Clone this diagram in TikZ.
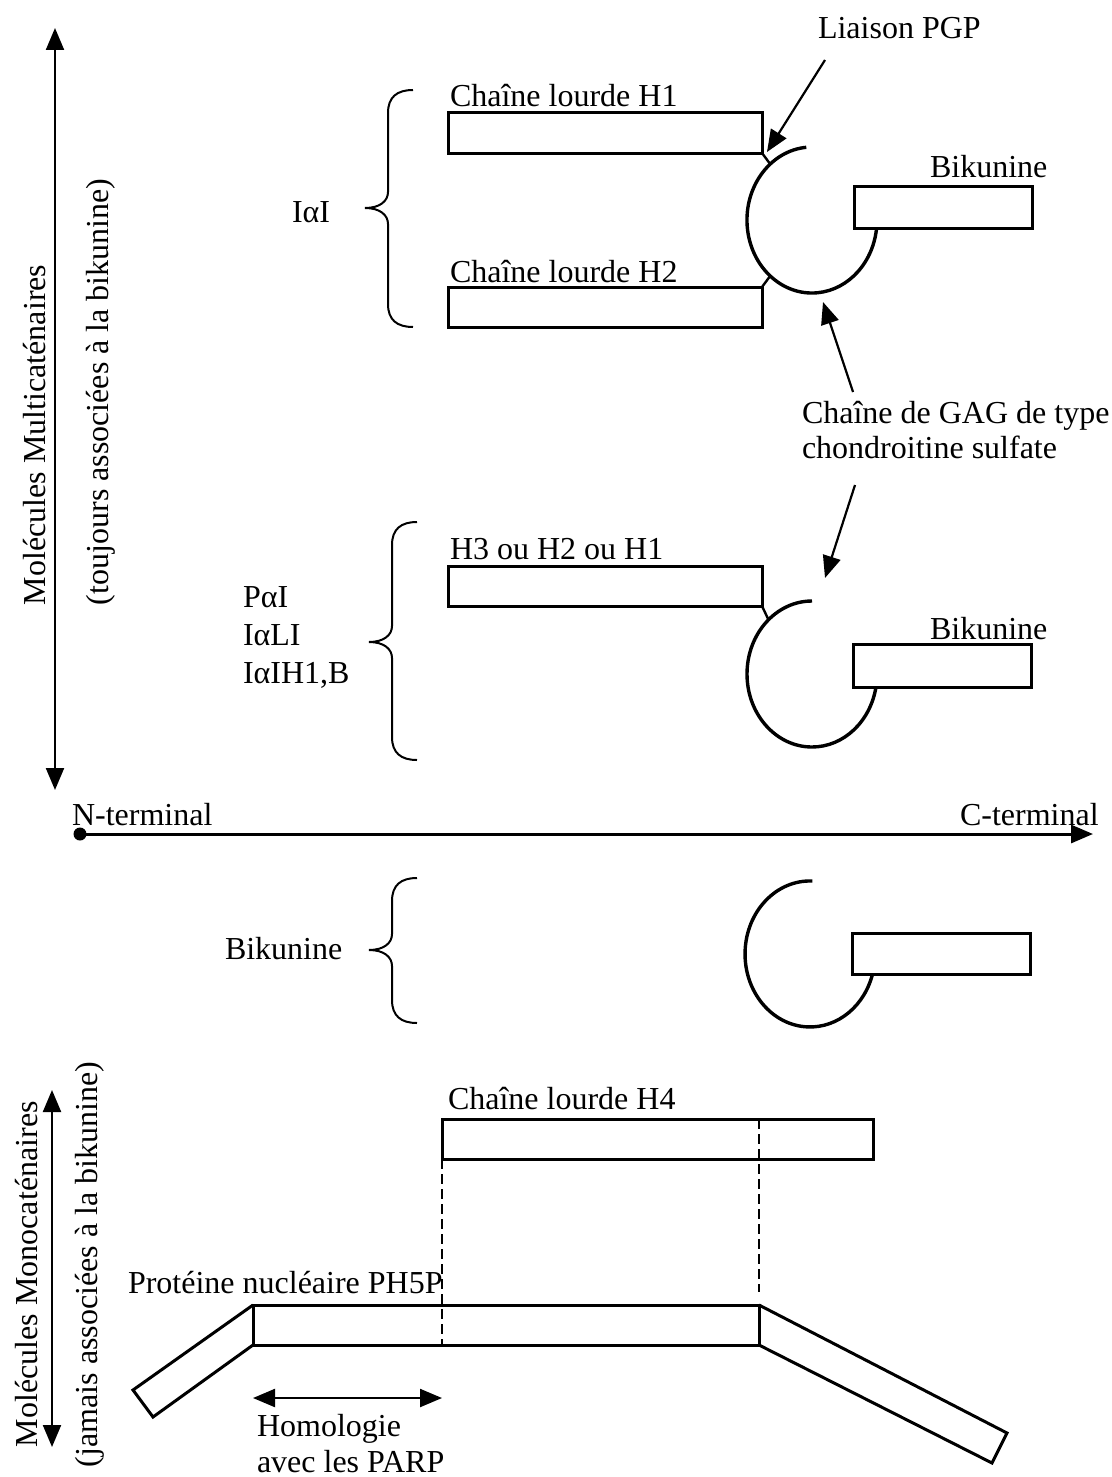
\documentclass[tikz,border=0pt]{standalone}
\usepackage{fontspec}
\setmainfont{Liberation Serif}
\usetikzlibrary{arrows.meta}
\newcommand{\CurlyBrace}[4]{%
  \draw[bracestyle] ({#1+25},#2) .. controls ({#1+9},#2) and (#1,{#2+7}) .. (#1,{#2+23})
    -- (#1,{#3-16}) .. controls (#1,{#3-7}) and ({#1-8},#3) .. ({#1-23},#3)
    .. controls ({#1-8},#3) and (#1,{#3+7}) .. (#1,{#3+16})
    -- (#1,{#4-23}) .. controls (#1,{#4-7}) and ({#1+9},#4) .. ({#1+25},#4);}
\begin{document}
\begin{tikzpicture}[x=0.5pt,y=-0.5pt,
  every node/.style={inner sep=0pt, outer sep=0pt, font=\fontsize{16}{19}\selectfont},
  lbl/.style={anchor=base west},
  bar/.style={draw, line width=1.5pt, fill=white, anchor=north west, inner sep=0pt},
  barline/.style={line width=1.5pt, line join=miter},
  arcline/.style={line width=1.7pt},
  tick/.style={line width=1.2pt},
  bracestyle/.style={line width=1pt},
  arr/.style={line width=1.1pt, -{Triangle[length=11pt,width=9pt]}},
  darr/.style={line width=1.1pt, {Triangle[length=11pt,width=9pt]}-{Triangle[length=11pt,width=9pt]}},
  dashline/.style={line width=0.8pt, dash pattern=on 5pt off 2.5pt}]
\useasboundingbox (0,0) rectangle (1112,1477);

% ---- left vertical axes and rotated texts
\coordinate (vt1) at (55,28);
\coordinate (vb1) at (55,790);
\draw[darr] (vt1) -- (vb1);
\node[rotate=90, anchor=base west] (multi) at (45,605) {Molécules Multicaténaires};
\node[rotate=90, anchor=base west] (tjrs) at (108,605) {(toujours associées à la bikunine)};

\coordinate (vt2) at (52,1090);
\coordinate (vb2) at (52,1447);
\draw[darr] (vt2) -- (vb2);
\node[rotate=90, anchor=base west] (mono) at (37,1447) {Molécules Monocaténaires};
\node[rotate=90, anchor=base west] (jam) at (97,1467) {(jamais associées à la bikunine)};

% ---- section 1 : IaI
\CurlyBrace{388}{90}{208}{327}
\node[lbl] (iai) at (292,222) {IαI};
\draw[arcline] (806.3,147.3) arc[start angle=265, end angle=5, x radius=65, y radius=73];
\coordinate (a1top) at (770.2,164.1);
\coordinate (a1bot) at (770.2,275.9);
\node[bar, minimum width=157pt, minimum height=20pt] (h1) at (448,113) {};
\node[bar, minimum width=157pt, minimum height=20pt] (h2) at (448,287) {};
\node[bar, minimum width=89pt, minimum height=21pt] (bk1) at (854,186) {};
\draw[tick] (h1.south east) -- (a1top);
\draw[tick] (h2.north east) -- (a1bot);
\node[lbl] (lh1) at (450,107) {Chaîne lourde H1};
\node[lbl] (lh2) at (450,282) {Chaîne lourde H2};
\node[lbl] (lbk1) at (930,177) {Bikunine};

\node[lbl] (pgp) at (818,39) {Liaison PGP};
\coordinate (pgptail) at (825,60);
\coordinate (pgphead) at (767,152);
\draw[arr] (pgptail) -- (pgphead);

% ---- GAG label
\node[lbl] (gag1) at (802,423) {Chaîne de GAG de type};
\node[lbl] (gag2) at (802,458) {chondroitine sulfate};
\coordinate (gagup) at (853,392);
\coordinate (gaguph) at (823,302);
\draw[arr] (gagup) -- (gaguph);
\coordinate (gagdn) at (855,485);
\coordinate (gagdnh) at (825,578);
\draw[arr] (gagdn) -- (gagdnh);

% ---- section 2
\CurlyBrace{392}{522}{642}{760}
\node[lbl] (pai) at (243,607) {PαI};
\node[lbl] (iali) at (243,645) {IαLI};
\node[lbl] (iaih) at (243,683) {IαIH1,B};
\draw[arcline] (812,601) arc[start angle=270, end angle=10, x radius=65, y radius=73];
\coordinate (a2top) at (768.5,619.8);
\node[bar, minimum width=157pt, minimum height=20pt] (h3) at (448,566) {};
\node[bar, minimum width=89pt, minimum height=21.5pt] (bk2) at (853,644) {};
\draw[tick] (h3.south east) -- (a2top);
\node[lbl] (lh3) at (450,559) {H3 ou H2 ou H1};
\node[lbl] (lbk2) at (930,639) {Bikunine};

% ---- N / C axis
\node[circle, fill=black, minimum size=6.5pt] (ndot) at (80,834) {};
\coordinate (ctip) at (1093,834);
\draw[line width=1.5pt, -{Triangle[length=11pt,width=9pt]}] (ndot.center) -- (ctip);
\node[lbl] (nterm) at (72,825) {N-terminal};
\node[lbl] (cterm) at (960,825) {C-terminal};

% ---- section 3 : bikunine alone
\CurlyBrace{392}{878}{950}{1023}
\node[lbl] (lbk3) at (225,959) {Bikunine};
\draw[arcline] (812.3,881) arc[start angle=272, end angle=15, x radius=65, y radius=73];
\node[bar, minimum width=89pt, minimum height=20.5pt] (bk3) at (852,933) {};

% ---- section 4 : single chain molecules
\node[bar, minimum width=215.5pt, minimum height=20pt] (h4) at (442,1119) {};
\node[lbl] (lh4) at (448,1109) {Chaîne lourde H4};
\node[bar, minimum width=253pt, minimum height=20pt] (ph5p) at (253,1305) {};
\draw[barline] (ph5p.north west) -- (133,1390) -- (153,1417) -- (ph5p.south west);
\draw[barline] (ph5p.north east) -- (1007,1433) -- (992,1463) -- (ph5p.south east);
\coordinate (dl1) at (442,1159);
\coordinate (dl2) at (442,1345);
\draw[dashline] (dl1) -- (dl2);
\coordinate (dr1) at (759,1119);
\coordinate (dr2) at (759,1292);
\draw[dashline] (dr1) -- (dr2);
\node[lbl] (lph5p) at (128,1293) {Protéine nucléaire PH5P};

\coordinate (homl) at (253,1398);
\coordinate (homr) at (442,1398);
\draw[darr] (homl) -- (homr);
\node[lbl] (hom1) at (257,1436) {Homologie};
\node[lbl] (hom2) at (257,1472) {avec les PARP};
\end{tikzpicture}
\end{document}
